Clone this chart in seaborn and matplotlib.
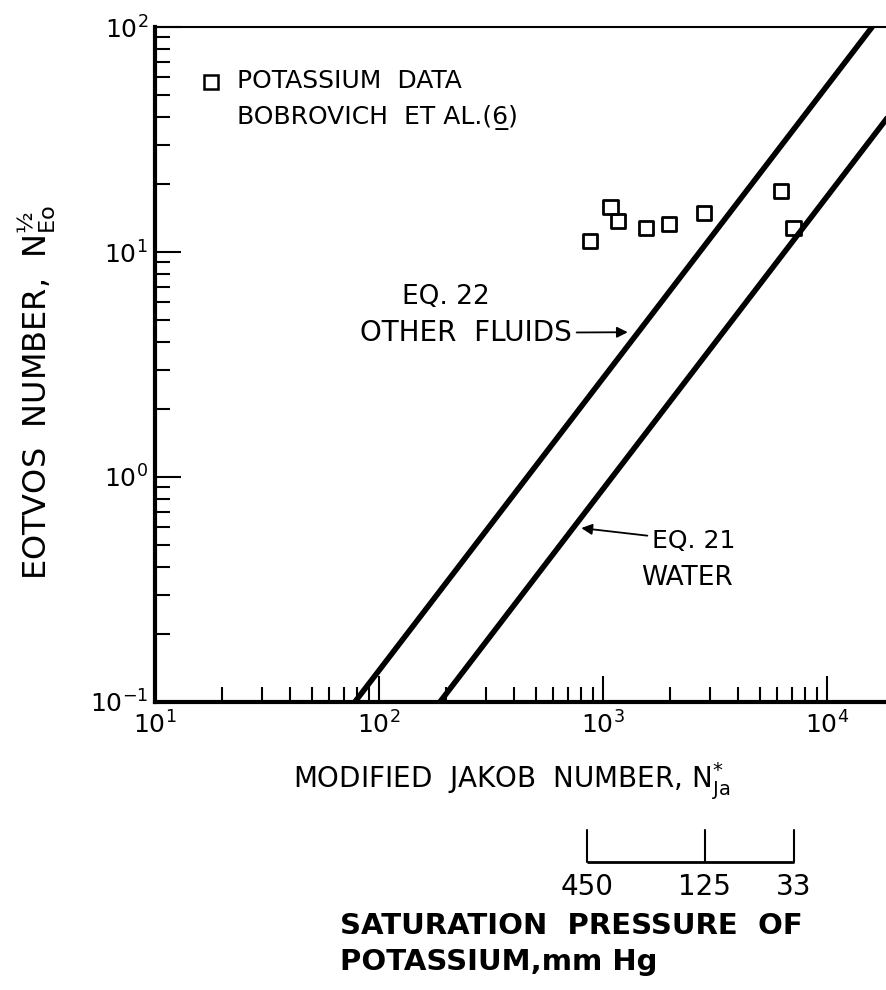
import numpy as np
import matplotlib
matplotlib.use("Agg")
import matplotlib.pyplot as plt
import matplotlib.transforms as mtransforms
from matplotlib.ticker import LogLocator, NullFormatter
import seaborn as sns

# ---- data ----
jakob_number = [875, 1080, 1170, 1555, 1975, 2830, 6240, 7080]
eotvos_number = [11.2, 15.9, 13.7, 12.8, 13.3, 14.9, 18.6, 12.8]

eq22_jakob = [78, 15900]      # Eq. 22, other fluids
eq22_eotvos = [0.1, 100]
eq21_jakob = [187, 38000]     # Eq. 21, water
eq21_eotvos = [0.1, 100]

pressure_labels = ["450", "125", "33"]   # saturation pressure of potassium, mm Hg
pressure_jakob = [850, 2850, 7130]

sns.set_theme(style="white")
plt.rcParams["font.family"] = ["DejaVu Sans"]
plt.rcParams["mathtext.default"] = "regular"
for key in ("text.color", "axes.labelcolor", "xtick.color", "ytick.color",
            "axes.edgecolor"):
    plt.rcParams[key] = "black"

W, H = 886, 990
fig = plt.figure(figsize=(W / 100, H / 100), dpi=100)
L, R, T, B = 155, 886, 27, 702
ax = fig.add_axes([L / W, 1 - B / H, (R - L) / W, (B - T) / H])
ax.set_xscale("log")
ax.set_yscale("log")
ax.set_xlim(10, 10 ** (1 + (R - L) / 224))
ax.set_ylim(0.1, 100)

sns.lineplot(x=eq22_jakob, y=eq22_eotvos, ax=ax, color="black", lw=4,
             estimator=None, sort=False)
sns.lineplot(x=eq21_jakob, y=eq21_eotvos, ax=ax, color="black", lw=4,
             estimator=None, sort=False)
sns.scatterplot(x=jakob_number, y=eotvos_number, ax=ax, marker="s", s=105,
                facecolor="none", edgecolor="black", linewidth=2, zorder=5)

# ticks
ax.xaxis.set_major_locator(LogLocator(base=10, numticks=10))
ax.yaxis.set_major_locator(LogLocator(base=10, numticks=10))
for axis in (ax.xaxis, ax.yaxis):
    axis.set_minor_locator(LogLocator(base=10, subs=np.arange(2, 10), numticks=20))
    axis.set_minor_formatter(NullFormatter())
ax.tick_params(which="both", direction="in", top=False, right=False,
               left=True, bottom=True, color="black", labelcolor="black")
ax.tick_params(which="major", length=19, width=1.5, labelsize=18)
ax.tick_params(which="minor", length=11, width=1.5)
ax.tick_params(axis="y", which="major", pad=5)
ax.tick_params(axis="x", which="major", pad=7)

for side in ("left", "bottom"):
    ax.spines[side].set_linewidth(3)
    ax.spines[side].set_color("black")
ax.spines["top"].set_linewidth(1.5)
ax.spines["top"].set_color("black")
ax.spines["right"].set_visible(False)

# axis labels
ax.set_xlabel("MODIFIED  JAKOB  NUMBER, $N^{*}_{Ja}$", fontsize=20, color="black")
ax.xaxis.set_label_coords((512 - L) / (R - L), (B - 760) / (B - T))
ax.set_ylabel("EOTVOS  NUMBER,  $N^{½}_{Eo}$", fontsize=23, color="black")
ax.yaxis.set_label_coords((58 - L) / (R - L), (B - 392) / (B - T))

# legend (drawn manually like the original)
ax.plot([(211 - L) / (R - L)], [(B - 82) / (B - T)], transform=ax.transAxes,
        marker="s", ms=9.5, mfc="none", mec="black", mew=1.8, clip_on=False)
ax.text((237 - L) / (R - L), (B - 81) / (B - T), "POTASSIUM  DATA",
        transform=ax.transAxes, fontsize=18, va="center", ha="left")
ax.text((237 - L) / (R - L), (B - 117) / (B - T), "BOBROVICH  ET AL.(6\u0332)",
        transform=ax.transAxes, fontsize=18, va="center", ha="left")

# annotations
arrow = dict(arrowstyle="-|>", color="black", lw=1.3, mutation_scale=16,
             shrinkA=1, shrinkB=0)
ax.text((446 - L) / (R - L), (B - 297) / (B - T), "EQ. 22", transform=ax.transAxes,
        fontsize=19, ha="center", va="center")
ax.annotate("OTHER  FLUIDS", xy=(1290, 4.4), xycoords="data",
            xytext=((572 - L) / (R - L), (B - 333) / (B - T)),
            textcoords="axes fraction", fontsize=20, ha="right", va="center",
            arrowprops=arrow)
ax.annotate("EQ. 21", xy=(800, 0.593), xycoords="data",
            xytext=((652 - L) / (R - L), (B - 541) / (B - T)),
            textcoords="axes fraction", fontsize=18, ha="left", va="center",
            arrowprops=arrow)
ax.text((687 - L) / (R - L), (B - 578) / (B - T), "WATER", transform=ax.transAxes,
        fontsize=19, ha="center", va="center")

# secondary pressure scale below the axis
trans = mtransforms.blended_transform_factory(ax.transData, ax.transAxes)
y_bar = (B - 862) / (B - T)
y_top = (B - 830) / (B - T)
y_lab = (B - 887) / (B - T)
ax.plot([pressure_jakob[0], pressure_jakob[-1]], [y_bar, y_bar], transform=trans,
        color="black", lw=2, clip_on=False, solid_capstyle="butt")
for xj, lab in zip(pressure_jakob, pressure_labels):
    ax.plot([xj, xj], [y_bar, y_top], transform=trans, color="black", lw=1.5,
            clip_on=False)
    ax.text(xj, y_lab, lab, transform=trans, fontsize=20, ha="center", va="center")

fig.text(340 / W, 1 - 926 / H, "SATURATION  PRESSURE  OF", fontsize=21,
         fontweight="bold", ha="left", va="center")
fig.text(340 / W, 1 - 962 / H, "POTASSIUM,mm Hg", fontsize=21,
         fontweight="bold", ha="left", va="center")

fig.savefig("out.png", dpi=100, facecolor="white")
